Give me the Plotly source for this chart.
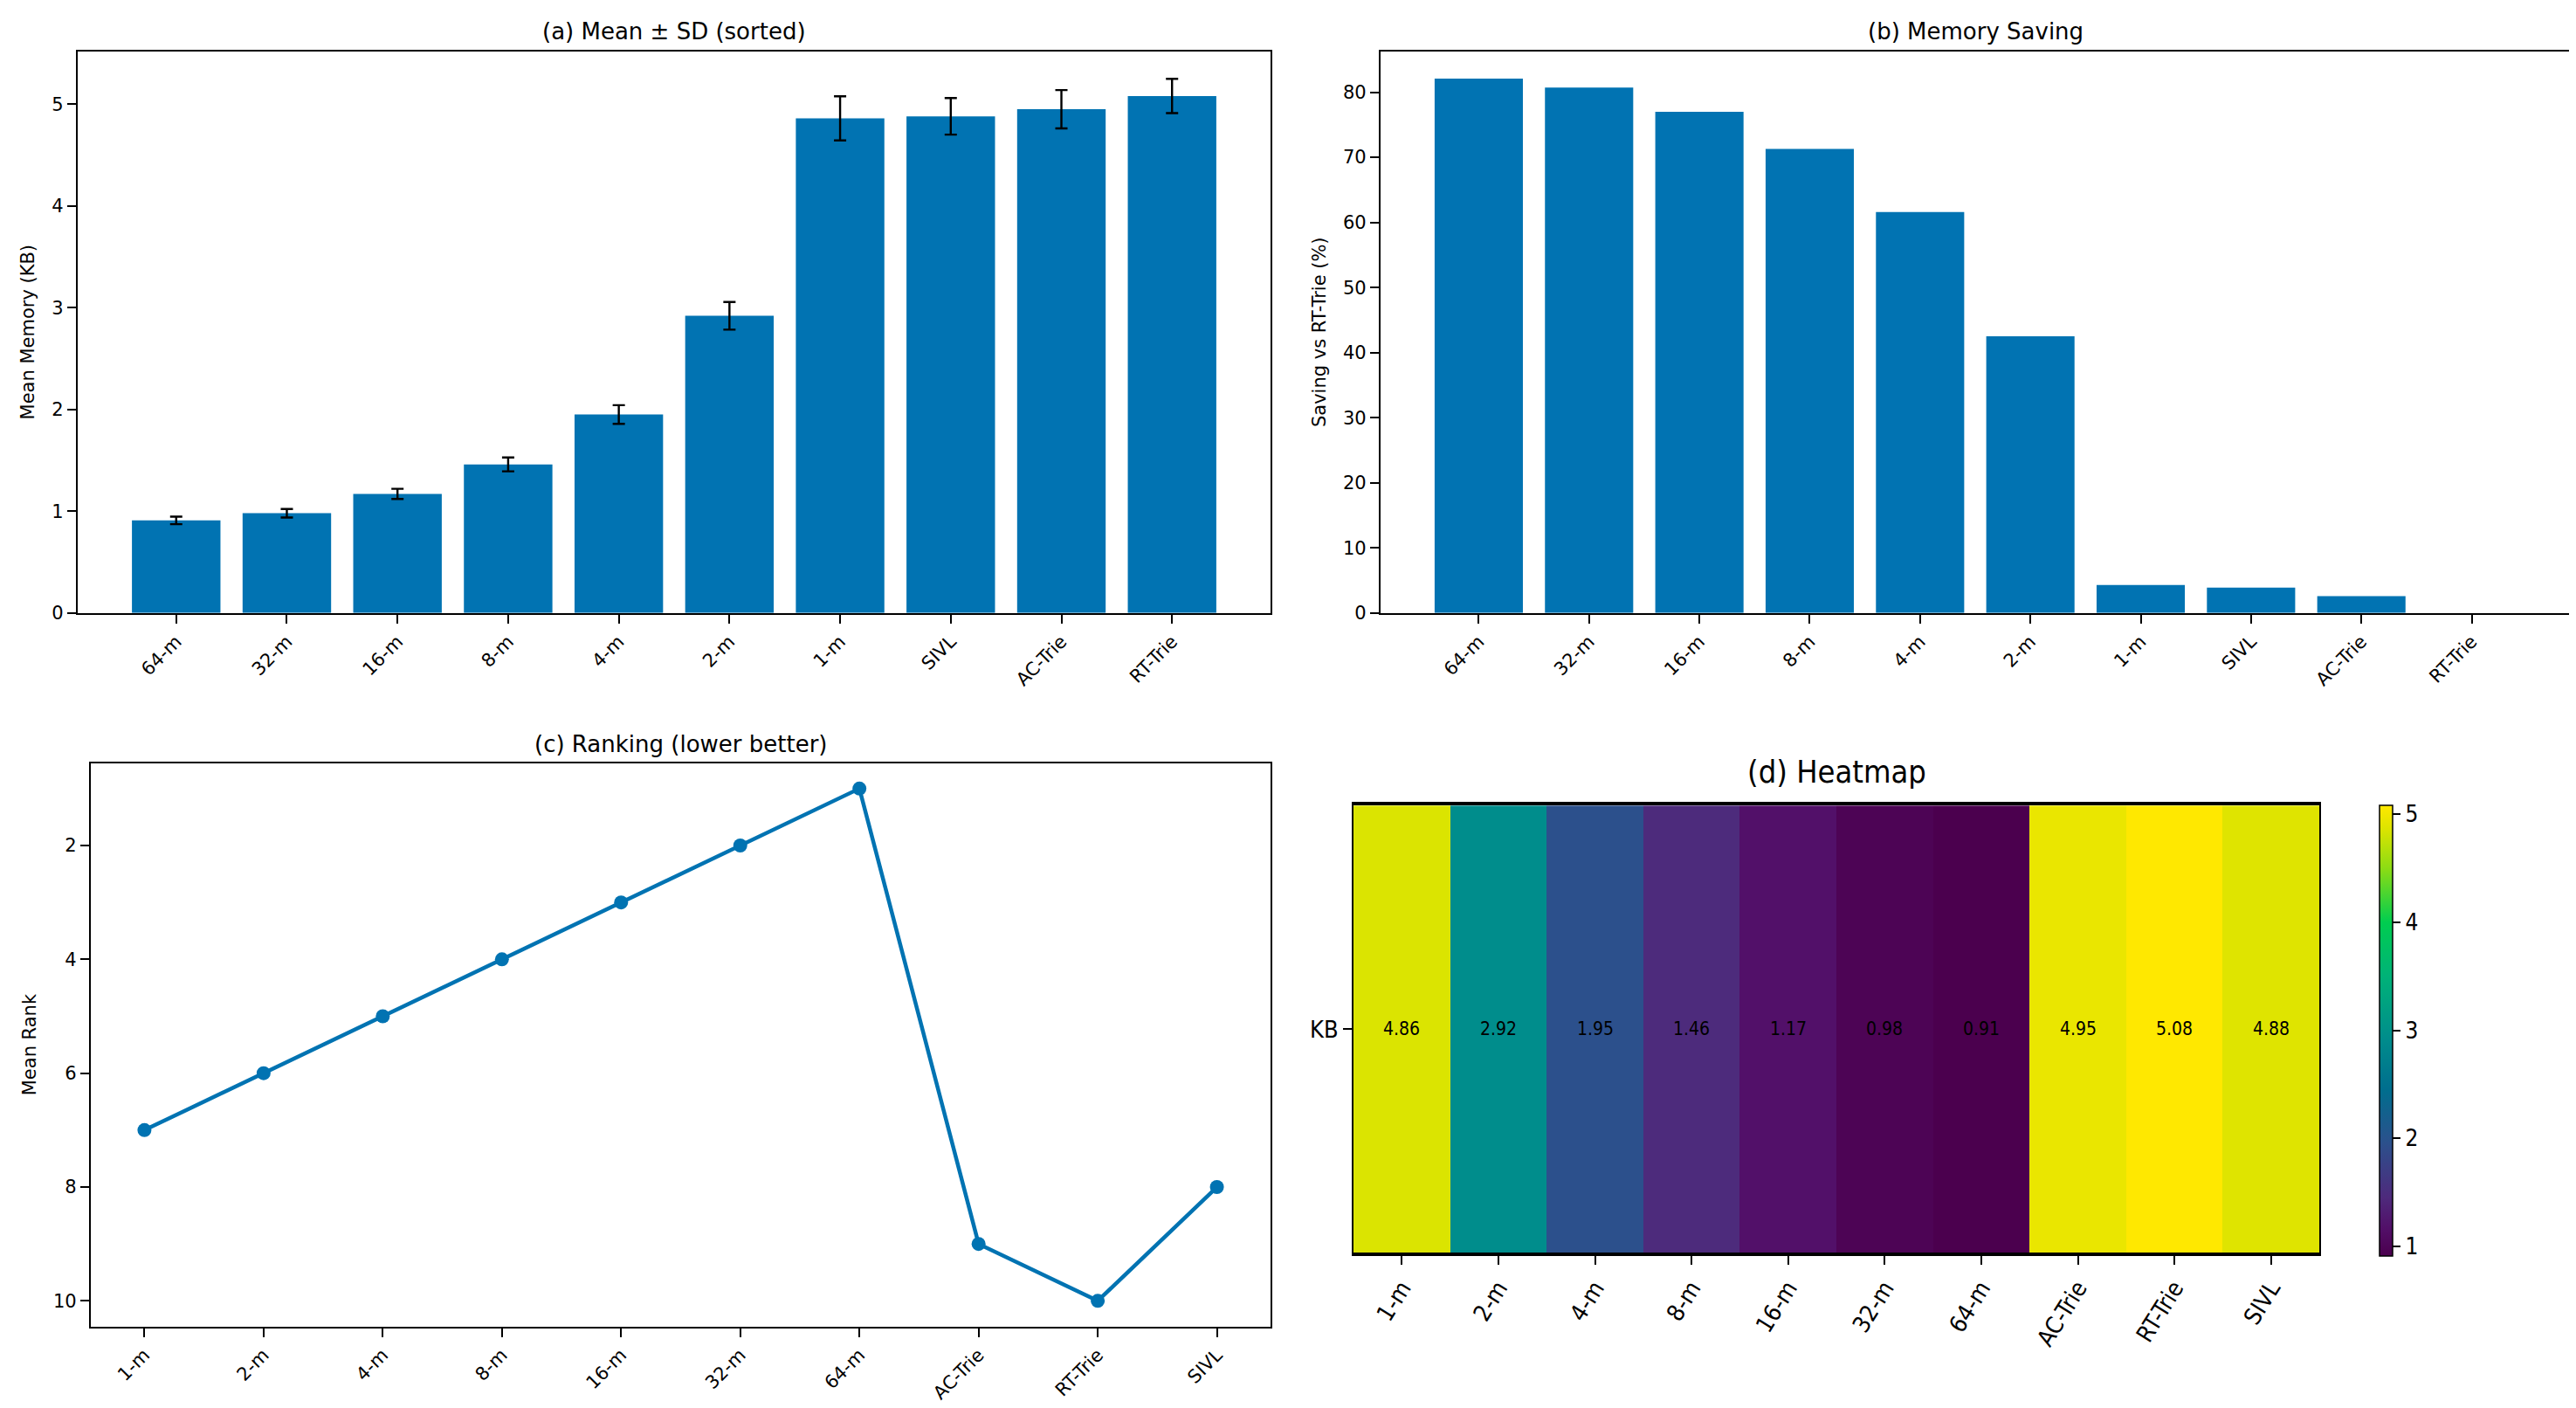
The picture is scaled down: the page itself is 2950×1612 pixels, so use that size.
import plotly.graph_objects as go
from plotly.subplots import make_subplots

# methods sorted by mean memory (panels a, b)
sorted_names = ['64-m', '32-m', '16-m', '8-m', '4-m', '2-m', '1-m', 'SIVL', 'AC-Trie', 'RT-Trie']
sorted_mean = [0.91, 0.98, 1.17, 1.46, 1.95, 2.92, 4.86, 4.88, 4.95, 5.08]
sorted_sd = [0.037, 0.042, 0.05, 0.068, 0.092, 0.136, 0.217, 0.18, 0.188, 0.168]
saving_pct = [82.1, 80.7, 77.0, 71.3, 61.6, 42.5, 4.3, 3.9, 2.6, 0.0]

# original order (panels c, d)
names = ['1-m', '2-m', '4-m', '8-m', '16-m', '32-m', '64-m', 'AC-Trie', 'RT-Trie', 'SIVL']
mean_rank = [7, 6, 5, 4, 3, 2, 1, 9, 10, 8]
mean_kb = [4.86, 2.92, 1.95, 1.46, 1.17, 0.98, 0.91, 4.95, 5.08, 4.88]

BLUE = '#0173b2'
FONT = 'DejaVu Sans'
NARROW = 'DejaVu Sans Condensed, Liberation Sans Narrow, DejaVu Sans'
W, H = 2950, 1612

# viridis as it shows up in the picture (a bit more saturated than the stock one)
heat_scale = [
    [0.0, 'rgb(75,0,78)'],
    [0.06, 'rgb(82,15,104)'],
    [0.13, 'rgb(78,42,124)'],
    [0.25, 'rgb(44,80,140)'],
    [0.37, 'rgb(0,110,142)'],
    [0.48, 'rgb(0,140,140)'],
    [0.62, 'rgb(0,178,120)'],
    [0.74, 'rgb(0,205,80)'],
    [0.86, 'rgb(140,220,20)'],
    [0.95, 'rgb(222,228,0)'],
    [1.0, 'rgb(255,232,0)'],
]

fig = make_subplots(rows=2, cols=2)

fig.add_trace(go.Bar(x=sorted_names, y=sorted_mean, marker_color=BLUE, marker_line_width=0,
                     error_y=dict(type='data', array=sorted_sd, color='black', thickness=2.4, width=7)),
              row=1, col=1)
fig.add_trace(go.Bar(x=sorted_names, y=saving_pct, marker_color=BLUE, marker_line_width=0),
              row=1, col=2)
fig.add_trace(go.Scatter(x=names, y=mean_rank, mode='lines+markers',
                         line=dict(color=BLUE, width=4.5), marker=dict(color=BLUE, size=16)),
              row=2, col=1)
fig.add_trace(go.Heatmap(z=[mean_kb], x=names, y=['KB'], colorscale=heat_scale,
                         zmin=min(mean_kb), zmax=max(mean_kb),
                         texttemplate='%{z:.2f}', textfont=dict(family=NARROW, size=21, color='black'),
                         colorbar=dict(x=2717 / W, xanchor='left', xpad=0, ypad=0,
                                       y=1 - 921 / H, yanchor='top',
                                       len=516, lenmode='pixels', thickness=15, thicknessmode='pixels',
                                       outlinecolor='black', outlinewidth=1.5,
                                       tickvals=[1, 2, 3, 4, 5], ticks='outside', ticklen=9,
                                       tickwidth=2, tickcolor='black',
                                       tickfont=dict(family=NARROW, size=26, color='black'))),
              row=2, col=2)


def px_x(a, b):
    return [a / W, b / W]


def px_y(top, bottom):
    return [1 - bottom / H, 1 - top / H]


axis_common = dict(showline=True, linecolor='black', linewidth=2.2, mirror=True,
                   ticks='outside', ticklen=10, tickwidth=2, tickcolor='black',
                   showgrid=False, zeroline=False,
                   tickfont=dict(family=FONT, size=21, color='black'))

fig.update_xaxes(axis_common)
fig.update_yaxes(axis_common)

fig.update_xaxes(domain=px_x(81, 1447), range=[-0.89, 9.89], tickangle=-45, row=1, col=1)
fig.update_yaxes(domain=px_y(51, 699), range=[0, 5.52], tickvals=[0, 1, 2, 3, 4, 5],
                 title=dict(text='Mean Memory (KB)', font=dict(family=FONT, size=21, color='black'),
                            standoff=14), row=1, col=1)

fig.update_xaxes(domain=px_x(1573, 2935), range=[-0.89, 9.89], tickangle=-45, row=1, col=2)
fig.update_yaxes(domain=px_y(51, 699), range=[0, 86.3], tickvals=[0, 10, 20, 30, 40, 50, 60, 70, 80],
                 title=dict(text='Saving vs RT-Trie (%)', font=dict(family=FONT, size=21, color='black'),
                            standoff=14), row=1, col=2)

fig.update_xaxes(domain=px_x(96, 1447), range=[-0.45, 9.45], tickangle=-45, row=2, col=1)
fig.update_yaxes(domain=px_y(872, 1522), range=[10.45, 0.55], tickvals=[2, 4, 6, 8, 10],
                 title=dict(text='Mean Rank', font=dict(family=FONT, size=21, color='black'),
                            standoff=14), row=2, col=1)

fig.update_xaxes(domain=px_x(1542, 2648), tickangle=-58, linewidth=3.5,
                 tickfont=dict(family=NARROW, size=27, color='black'), row=2, col=2)
fig.update_yaxes(domain=px_y(921, 1437), linewidth=2,
                 tickfont=dict(family=NARROW, size=27, color='black'), row=2, col=2)

titles = [
    ('(a) Mean ± SD (sorted)', (81 + 1447) / 2, 28, 26, FONT),
    ('(b) Memory Saving', (1573 + 2935) / 2, 28, 26, FONT),
    ('(c) Ranking (lower better)', (96 + 1447) / 2, 850, 26, FONT),
    ('(d) Heatmap', (1542 + 2648) / 2, 882, 36, NARROW),
]
for text, cx, cy, size, fam in titles:
    fig.add_annotation(text=text, x=cx / W, y=1 - cy / H, xref='paper', yref='paper',
                       xanchor='center', yanchor='middle', showarrow=False,
                       font=dict(family=fam, size=size, color='black'))

fig.update_layout(width=W, height=H, autosize=False, showlegend=False,
                  margin=dict(l=0, r=0, t=0, b=0),
                  paper_bgcolor='white', plot_bgcolor='white', bargap=0.2,
                  font=dict(family=FONT, color='black'))

fig.write_html("out.html")
